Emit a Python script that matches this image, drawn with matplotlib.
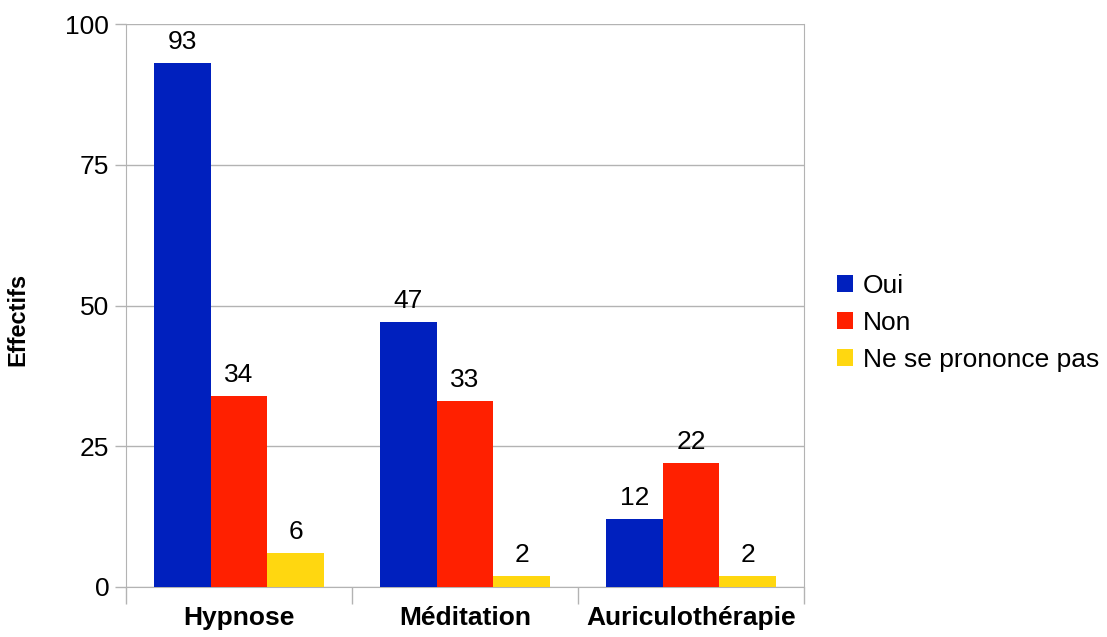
import matplotlib.pyplot as plt
import numpy as np

plt.rcParams['font.family'] = ['Liberation Sans', 'DejaVu Sans']

categories = ["Hypnose", "Méditation", "Auriculothérapie"]
series = ["Oui", "Non", "Ne se prononce pas"]
oui = [93, 47, 12]
non = [34, 33, 22]
nsp = [6, 2, 2]
colors = ["#0020be", "#ff2000", "#ffd710"]

fig = plt.figure(figsize=(11.07, 6.37), dpi=100)
ax = fig.add_axes([126 / 1107, 1 - 587 / 637, (804 - 126) / 1107, (587 - 24) / 637])

x = np.arange(len(categories))
w = 0.25
for k, (vals, name, col) in enumerate(zip([oui, non, nsp], series, colors)):
    pos = x + (k - 1) * w
    ax.bar(pos, vals, width=w, color=col, label=name, zorder=3)
    for p, v in zip(pos, vals):
        ax.text(p, v + 1.6, str(v), ha="center", va="bottom", fontsize=19)

ax.set_xlim(-0.5, len(categories) - 0.5)
ax.set_ylim(0, 100)
ax.set_yticks([0, 25, 50, 75, 100])
ax.yaxis.grid(True, color="#b3b3b3", linewidth=1, zorder=0)

ax.set_xticks(x)
ax.set_xticklabels(categories, fontsize=19, fontweight="bold")
ax.set_xticks(np.arange(-0.5, len(categories)), minor=True)
ax.tick_params(axis="x", which="major", length=0, pad=14)
ax.tick_params(axis="x", which="minor", length=12, color="#b3b3b3", width=1)
ax.tick_params(axis="y", length=8, color="#b3b3b3", width=1, labelsize=19, pad=4)

for s in ["left", "bottom", "right"]:
    ax.spines[s].set_color("#b3b3b3")
ax.spines["top"].set_visible(False)

ax.set_ylabel("Effectifs", fontsize=17, fontweight="bold")
ax.yaxis.set_label_coords(-0.143, 0.475)

ax.legend(loc="center left", bbox_to_anchor=(1.029, 0.469), frameon=False,
          fontsize=19, handlelength=0.6, handleheight=0.6, handletextpad=0.4,
          labelspacing=0.5, borderpad=0)

fig.savefig("out.png", dpi=100)
